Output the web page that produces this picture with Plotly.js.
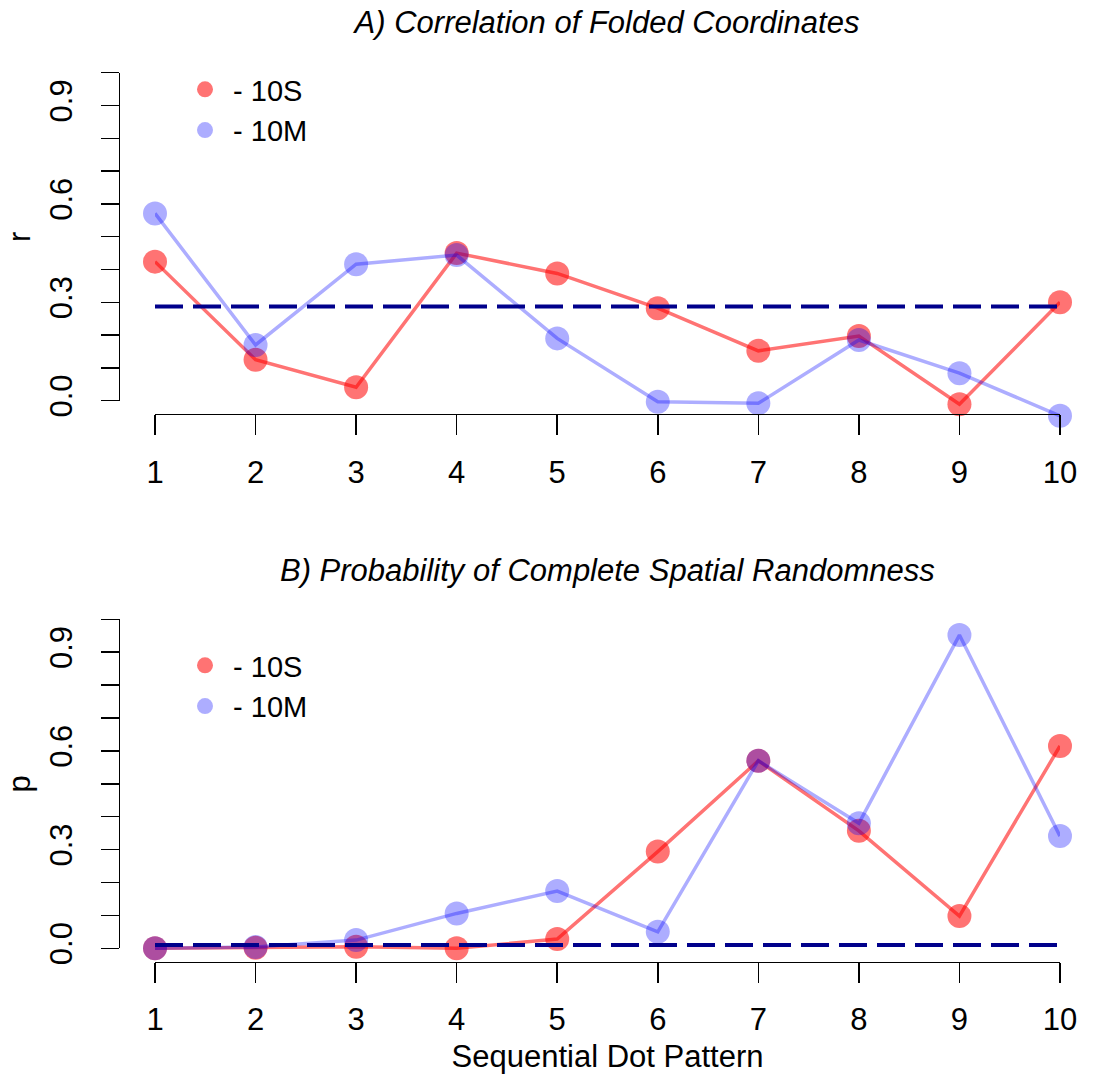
<!DOCTYPE html>
<html>
<head>
<meta charset="utf-8">
<script src="https://cdn.plot.ly/plotly-3.0.1.min.js"></script>
<style>html,body{margin:0;padding:0;background:#fff;}#chart{width:1096px;height:1074px;}</style>
</head>
<body>
<div id="chart"></div>
<script>
// ---- data ----
const patterns = [1, 2, 3, 4, 5, 6, 7, 8, 9, 10];
const r10S = [0.424, 0.125, 0.041, 0.450, 0.388, 0.282, 0.152, 0.197, -0.011, 0.300];
const r10M = [0.571, 0.170, 0.416, 0.444, 0.190, -0.003, -0.008, 0.185, 0.084, -0.046];
const p10S = [0.000, 0.002, 0.005, 0.000, 0.028, 0.294, 0.570, 0.357, 0.098, 0.615];
const p10M = [0.000, 0.004, 0.025, 0.106, 0.174, 0.050, 0.570, 0.380, 0.952, 0.341];
const refX = [1, 10];
const refR = [0.287, 0.287];
const refP = [0.010, 0.010];
const seriesNames = ['\u00a0- 10S', '\u00a0- 10M'];
const yTickVals = [0, 0.1, 0.2, 0.3, 0.4, 0.5, 0.6, 0.7, 0.8, 0.9, 1.0];
const yTickText = ['0.0', '', '', '0.3', '', '', '0.6', '', '', '0.9', ''];
const xTickVals = [1, 2, 3, 4, 5, 6, 7, 8, 9, 10];
const xTickText = ['1', '2', '3', '4', '5', '6', '7', '8', '9', '10'];

// ---- layout geometry (pixels) ----
const W = 1096, H = 1074;
const FONT = '"Liberation Sans", Arial, Helvetica, sans-serif';
const RED = 'rgba(255,0,0,0.55)';
const BLUE = 'rgba(0,0,255,0.32)';
const NAVY = '#00008B';
const xL = 155, xR = 1060;           // pixels of x=1 and x=10
const yAxisPx = 118.8;               // y-axis line position
const top0 = 400.7, top1 = 72.7;     // top panel: px of y=0 and y=1
const bot0 = 948.3, bot1 = 619.3;    // bottom panel
const pad = 0.1;                     // data-axis range extension
function py(p) { return 1 - p / H; }
function dataDomain(z, o) { const u = z - o; return [py(z + pad * u), py(o - pad * u)]; }

function seriesTraces(xs, ys, name, color, xa, ya, leg) {
  return [
    {x: xs, y: ys, xaxis: xa, yaxis: ya, mode: 'lines', line: {color: color, width: 3.5},
     showlegend: false, hoverinfo: 'skip', cliponaxis: false},
    {x: xs, y: ys, xaxis: xa, yaxis: ya, mode: 'markers', name: name, legend: leg,
     marker: {color: color, size: 24, line: {width: 0}}, cliponaxis: false}
  ];
}

const traces = [].concat(
  [{x: refX, y: refR, xaxis: 'x', yaxis: 'y3', mode: 'lines', showlegend: false,
    line: {color: NAVY, width: 4, dash: '28px,10px'}}],
  seriesTraces(patterns, r10S, seriesNames[0], RED, 'x', 'y', 'legend'),
  seriesTraces(patterns, r10M, seriesNames[1], BLUE, 'x', 'y', 'legend'),
  [{x: refX, y: refP, xaxis: 'x2', yaxis: 'y4', mode: 'lines', showlegend: false,
    line: {color: NAVY, width: 4, dash: '28px,10px'}}],
  seriesTraces(patterns, p10S, seriesNames[0], RED, 'x2', 'y2', 'legend2'),
  seriesTraces(patterns, p10M, seriesNames[1], BLUE, 'x2', 'y2', 'legend2')
);

const xDom = [xL / W, xR / W];
function xAxis(posPx, title) {
  const a = {
    domain: xDom, range: [1, 10], anchor: 'free', position: py(posPx),
    showline: true, linecolor: '#000', linewidth: 1.5, mirror: false,
    ticks: 'outside', ticklen: 20, tickwidth: 1.5, tickcolor: '#000',
    tickvals: xTickVals, ticktext: xTickText, ticklabelstandoff: 10,
    tickfont: {family: FONT, size: 31, color: '#000'},
    showgrid: false, zeroline: false, fixedrange: true
  };
  if (title) a.title = {text: title, font: {family: FONT, size: 31, color: '#000'}, standoff: 12};
  return a;
}
function yDecor(z, o, title) {
  return {
    domain: [py(z), py(o)], range: [0, 1], anchor: 'free', position: yAxisPx / W,
    showline: true, linecolor: '#000', linewidth: 1.5,
    ticks: 'outside', ticklen: 18, tickwidth: 1.5, tickcolor: '#000',
    tickvals: yTickVals, ticktext: yTickText, tickangle: -90, ticklabelstandoff: 16,
    tickfont: {family: FONT, size: 31, color: '#000'},
    title: {text: title, font: {family: FONT, size: 31, color: '#000'}, standoff: 3},
    showgrid: false, zeroline: false, fixedrange: true
  };
}
function yData(z, o) {
  return {domain: dataDomain(z, o), range: [-pad, 1 + pad], anchor: 'x', visible: false, fixedrange: true};
}

const legendBase = {
  font: {family: FONT, size: 29, color: '#000'}, bgcolor: 'rgba(0,0,0,0)',
  xanchor: 'left', yanchor: 'top', x: 185 / W, itemsizing: 'trace', tracegroupgap: 0
};

const layout = {
  width: W, height: H, autosize: false,
  margin: {l: 0, r: 0, t: 0, b: 0, pad: 0},
  paper_bgcolor: '#fff', plot_bgcolor: 'rgba(0,0,0,0)',
  showlegend: true,
  title: {text: 'A) Correlation of Folded Coordinates', xref: 'container', yref: 'container',
          x: 607 / W, xanchor: 'center', y: py(22), yanchor: 'middle',
          font: {family: FONT, size: 31, color: '#000', style: 'italic'}},
  xaxis: xAxis(413.8, null),
  xaxis2: xAxis(961.5, 'Sequential Dot Pattern'),
  yaxis: yData(top0, top1),
  yaxis2: Object.assign(yData(bot0, bot1), {anchor: 'x2'}),
  yaxis3: yDecor(top0, top1, 'r'),
  yaxis4: yDecor(bot0, bot1, 'p'),
  legend: Object.assign({}, legendBase, {y: py(64)}),
  legend2: Object.assign({}, legendBase, {y: py(640)}),
  annotations: [{
    text: 'B) Probability of Complete Spatial Randomness', xref: 'paper', yref: 'paper',
    x: 607 / W, y: py(570), xanchor: 'center', yanchor: 'middle', showarrow: false,
    font: {family: FONT, size: 31, color: '#000', style: 'italic'}
  }],
  hovermode: false
};

Plotly.newPlot('chart', traces, layout, {staticPlot: true, displayModeBar: false});
</script>
</body>
</html>
